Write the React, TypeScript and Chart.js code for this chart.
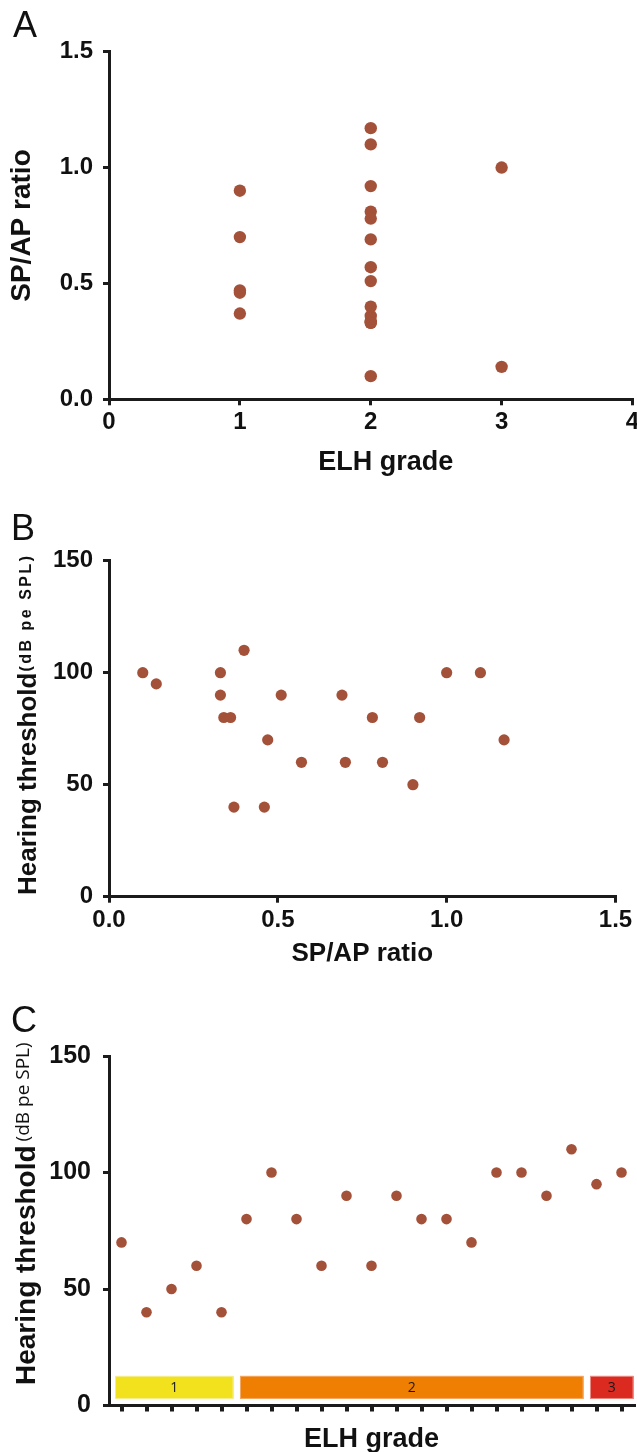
import React, { useEffect, useRef } from 'react';
import { Chart, registerables } from 'chart.js';

Chart.register(...registerables);

// ---------------- data ----------------
// one entry per patient, ordered as in panel C
const patientGrade = [1, 1, 1, 1, 1, 2, 2, 2, 2, 2, 2, 2, 2, 2, 2, 2, 2, 2, 2, 3, 3];
const spApRatio = [0.47, 0.46, 0.9, 0.7, 0.37, 0.34, 0.33, 0.36, 0.57, 0.33, 0.81, 0.51, 0.78, 0.92, 1.17, 0.1, 1.1, 0.69, 0.4, 0.14, 1.0];
const hearingThreshold = [70, 40, 50, 60, 40, 80, 100, 80, 60, 90, 60, 90, 80, 80, 70, 100, 100, 90, 110, 95, 100];
const patientLabels = patientGrade.map((_, i) => String(i + 1));

const gradeLabels = ['1', '2', '3'];
const gradeColors = ['#F1E21D', '#EE7F02', '#DB2A20'];
const gradeBorders = ['#F6EE8C', '#F5A860', '#EC8A82'];

const elhTicks = [0, 1, 2, 3, 4];
const ratioTicks = [0, 0.5, 1.0, 1.5];
const thresholdTicks = [0, 50, 100, 150];

// ---------------- styles ----------------
const FONT = '"Liberation Sans", Arial, Helvetica, sans-serif';
const AXIS = '#1b1b1b';
const TEXT = '#111111';
const POINT = '#A4513A';
const CW = 680;

function axis(size: number, pad: number, tickW = 3): any {
  return {
    border: { display: true, color: AXIS, width: 3 },
    grid: { display: true, drawOnChartArea: false, drawTicks: true, tickLength: 6, lineWidth: tickW, color: AXIS },
    ticks: { color: TEXT, padding: pad, font: { family: FONT, size, weight: 'bold' } },
  };
}

const extrasPlugin = {
  id: 'extras',
  beforeDatasetsDraw(chart: any, _a: any, opts: any) {
    if (!opts || !opts.bars) return;
    const ctx = chart.ctx;
    const xs = chart.scales.x;
    const ys = chart.scales.y;
    const half = (xs.getPixelForValue(1) - xs.getPixelForValue(0)) / 2;
    const yTop = ys.getPixelForValue(12.7);
    const yBot = ys.getPixelForValue(2.8);
    ctx.save();
    gradeLabels.forEach((g, gi) => {
      const idx = patientGrade.map((v, i) => (v === Number(g) ? i : -1)).filter((i) => i >= 0);
      const x0 = xs.getPixelForValue(idx[0]) - half + 6;
      const x1 = xs.getPixelForValue(idx[idx.length - 1]) + half - 0.5;
      ctx.fillStyle = gradeColors[gi];
      ctx.fillRect(x0, yTop, x1 - x0, yBot - yTop);
      ctx.strokeStyle = gradeBorders[gi];
      ctx.lineWidth = 1;
      ctx.strokeRect(x0 + 0.5, yTop + 0.5, x1 - x0 - 1, yBot - yTop - 1);
      ctx.fillStyle = '#1a1a1a';
      ctx.font = '14px "Open Sans", "Liberation Sans", sans-serif';
      ctx.textAlign = 'center';
      ctx.textBaseline = 'middle';
      ctx.fillText(g, (x0 + x1) / 2, (yTop + yBot) / 2 + 0.5);
    });
    ctx.restore();
  },
  afterDraw(chart: any, _a: any, opts: any) {
    if (!opts || !opts.yTitle) return;
    const t = opts.yTitle;
    const ctx = chart.ctx;
    ctx.save();
    ctx.translate(t.mainBaseX, t.startY);
    ctx.rotate(-Math.PI / 2);
    ctx.textAlign = 'left';
    ctx.textBaseline = 'alphabetic';
    ctx.fillStyle = TEXT;
    ctx.font = t.mainFont;
    ctx.fillText(t.main, 0, 0);
    const w = ctx.measureText(t.main).width;
    ctx.font = t.smallFont;
    (ctx as any).letterSpacing = t.spacing;
    ctx.fillText(t.small, w + t.gap, t.smallBaseX - t.mainBaseX);
    ctx.restore();
  },
};

function makeConfigA(H: number): any {
  const bottom = 399.3;
  return {
    type: 'scatter',
    data: {
      datasets: [
        {
          data: patientGrade.map((g, i) => ({ x: g, y: spApRatio[i] })),
          backgroundColor: POINT,
          borderWidth: 0,
          pointRadius: 6.2,
        },
      ],
    },
    plugins: [extrasPlugin],
    options: {
      responsive: false,
      animation: false,
      events: [],
      layout: { padding: { top: 51.7, left: 0, right: CW - 632.5, bottom: 0 } },
      plugins: { legend: { display: false }, tooltip: { enabled: false }, extras: {} },
      scales: {
        x: {
          type: 'linear',
          min: 0,
          max: 4,
          afterBuildTicks: (s: any) => { s.ticks = elhTicks.map((v) => ({ value: v })); },
          ...axis(24, 3),
          ticks: { ...axis(24, 3).ticks, callback: (v: any) => String(v) },
          title: { display: true, text: '    ELH grade', color: TEXT, font: { family: FONT, size: 27, weight: 'bold' }, padding: { top: 0, bottom: 6.5 } },
          afterFit: (s: any) => { s.height = H - bottom; },
        },
        y: {
          type: 'linear',
          min: 0,
          max: 1.5,
          afterBuildTicks: (s: any) => { s.ticks = ratioTicks.map((v) => ({ value: v })); },
          ...axis(24, 10),
          ticks: { ...axis(24, 10).ticks, callback: (v: any) => Number(v).toFixed(1) },
          title: { display: true, text: 'SP/AP ratio', color: TEXT, font: { family: FONT, size: 28, weight: 'bold' }, padding: { top: 5.5, bottom: 0 } },
          afterFit: (s: any) => { s.width = 109; },
        },
      },
    },
  };
}

function makeConfigB(H: number, top: number): any {
  const bottom = 896.7 - top;
  return {
    type: 'scatter',
    data: {
      datasets: [
        {
          data: spApRatio.map((r, i) => ({ x: r, y: hearingThreshold[i] })),
          backgroundColor: POINT,
          borderWidth: 0,
          pointRadius: 5.6,
        },
      ],
    },
    plugins: [extrasPlugin],
    options: {
      responsive: false,
      animation: false,
      events: [],
      layout: { padding: { top: 560.7 - top, left: 0, right: CW - 615.5, bottom: 0 } },
      plugins: {
        legend: { display: false },
        tooltip: { enabled: false },
        extras: {
          yTitle: {
            main: 'Hearing threshold',
            mainFont: `bold 26px ${FONT}`,
            small: '(dB pe SPL)',
            smallFont: `bold 16px ${FONT}`,
            spacing: '2.5px',
            gap: 1,
            mainBaseX: 35.5,
            smallBaseX: 31,
            startY: 895 - top,
          },
        },
      },
      scales: {
        x: {
          type: 'linear',
          min: 0,
          max: 1.5,
          afterBuildTicks: (s: any) => { s.ticks = ratioTicks.map((v) => ({ value: v })); },
          ...axis(24, 3),
          ticks: { ...axis(24, 3).ticks, callback: (v: any) => Number(v).toFixed(1) },
          title: { display: true, text: 'SP/AP ratio', color: TEXT, font: { family: FONT, size: 26, weight: 'bold' }, padding: { top: 0, bottom: 5.4 } },
          afterFit: (s: any) => { s.height = H - bottom; },
        },
        y: {
          type: 'linear',
          min: 0,
          max: 150,
          afterBuildTicks: (s: any) => { s.ticks = thresholdTicks.map((v) => ({ value: v })); },
          ...axis(24, 10),
          title: { display: false },
          afterFit: (s: any) => { s.width = 109; },
        },
      },
    },
  };
}

function makeConfigC(H: number, top: number): any {
  const bottom = 1405.5 - top;
  return {
    type: 'line',
    data: {
      labels: patientLabels,
      datasets: [
        {
          data: hearingThreshold,
          showLine: false,
          backgroundColor: POINT,
          borderColor: POINT,
          borderWidth: 0,
          pointRadius: 5.3,
          pointBorderWidth: 0,
        },
      ],
    },
    plugins: [extrasPlugin],
    options: {
      responsive: false,
      animation: false,
      events: [],
      layout: { padding: { top: 1056 - top, left: 0, right: CW - 634, bottom: 0 } },
      plugins: {
        legend: { display: false },
        tooltip: { enabled: false },
        extras: {
          bars: true,
          yTitle: {
            main: 'Hearing threshold',
            mainFont: `bold 28px ${FONT}`,
            small: '(dB pe SPL)',
            smallFont: `19px "Open Sans", ${FONT}`,
            spacing: '0px',
            gap: 4,
            mainBaseX: 35.1,
            smallBaseX: 28.6,
            startY: 1385 - top,
          },
        },
      },
      scales: {
        x: {
          type: 'category',
          offset: true,
          ...axis(24, 3, 4),
          grid: { ...axis(24, 3, 4).grid, offset: false },
          ticks: { display: false },
          title: { display: true, text: 'ELH grade', color: TEXT, font: { family: FONT, size: 27, weight: 'bold' }, padding: { top: 0, bottom: 19.3 } },
          afterFit: (s: any) => { s.height = H - bottom; },
        },
        y: {
          type: 'linear',
          min: 0,
          max: 150,
          afterBuildTicks: (s: any) => { s.ticks = thresholdTicks.map((v) => ({ value: v })); },
          ...axis(25, 12),
          title: { display: false },
          afterFit: (s: any) => { s.width = 109; },
        },
      },
    },
  };
}

function Panel({ top, height, make }: { top: number; height: number; make: (H: number, top: number) => any }) {
  const ref = useRef<HTMLCanvasElement | null>(null);
  useEffect(() => {
    if (!ref.current) return;
    const chart = new Chart(ref.current, make(height, top));
    return () => chart.destroy();
  }, []);
  return (
    <canvas
      ref={ref}
      width={CW}
      height={height}
      style={{ position: 'absolute', left: 0, top, width: CW, height, display: 'block' }}
    />
  );
}

const letterStyle: React.CSSProperties = {
  position: 'absolute',
  fontFamily: FONT,
  fontSize: 36,
  lineHeight: '36px',
  fontWeight: 400,
  color: '#111',
};

export default function App() {
  return (
    <div
      style={{
        position: 'absolute',
        left: 0,
        top: 0,
        width: 637,
        height: 1452,
        overflow: 'hidden',
        background: '#ffffff',
      }}
    >
      <Panel top={0} height={485} make={(H) => makeConfigA(H)} />
      <Panel top={485} height={490} make={makeConfigB} />
      <Panel top={975} height={500} make={makeConfigC} />
      <div style={{ ...letterStyle, left: 13, top: 7 }}>A</div>
      <div style={{ ...letterStyle, left: 11, top: 510 }}>B</div>
      <div style={{ ...letterStyle, left: 11, top: 1002 }}>C</div>
    </div>
  );
}
